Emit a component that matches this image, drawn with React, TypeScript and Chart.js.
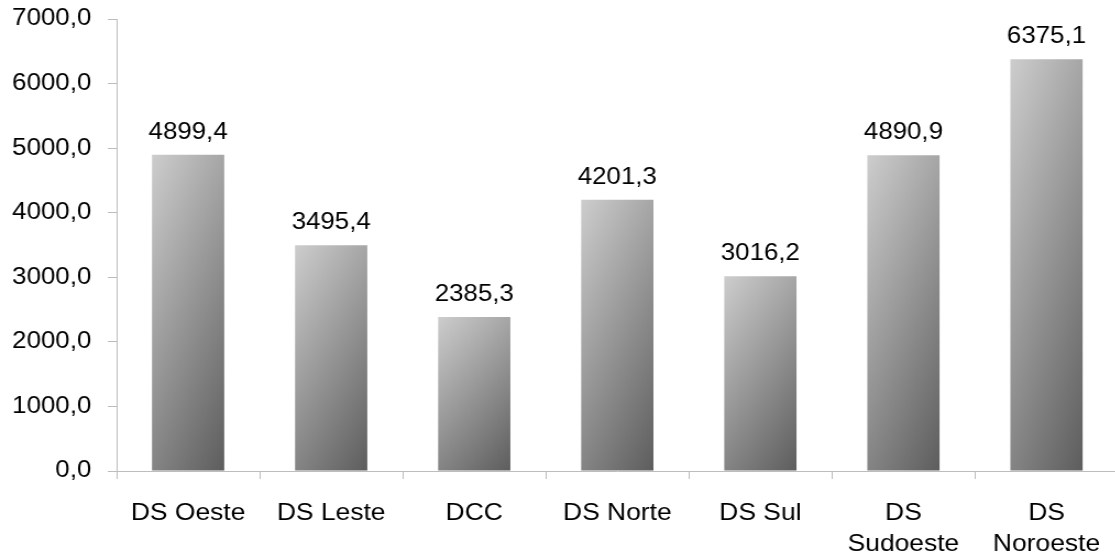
import React, { useEffect, useRef } from 'react';
import { Chart, registerables } from 'chart.js';

Chart.register(...registerables);

// ---- data ----
const categories: (string | string[])[] = [
  'DS Oeste',
  'DS Leste',
  'DCC',
  'DS Norte',
  'DS Sul',
  ['DS', 'Sudoeste'],
  ['DS', 'Noroeste'],
];
const values: number[] = [4899.4, 3495.4, 2385.3, 4201.3, 3016.2, 4890.9, 6375.1];
const yMin = 0;
const yMax = 7000;
const yStep = 1000;

// ---- style ----
const STRETCH = 1.1; // the reference text is slightly wider than tall
const CANVAS_W = 1019;
const CANVAS_H = 557;
const FONT = "'Liberation Sans', Arial, sans-serif";
const AXIS = '#bdbdbd';
const BAR_PCT = 0.505;
const LIGHT = '#cdcdcd';
const DARK = '#5d5d5d';

const fmt = (v: number) => Number(v).toFixed(1).replace('.', ',');

const valueLabels = {
  id: 'valueLabels',
  afterDatasetsDraw(chart: any) {
    const ctx = chart.ctx;
    const meta = chart.getDatasetMeta(0);
    ctx.save();
    ctx.font = `23.5px ${FONT}`;
    ctx.fillStyle = '#000';
    ctx.textAlign = 'center';
    ctx.textBaseline = 'alphabetic';
    meta.data.forEach((bar: any, i: number) => {
      ctx.fillText(fmt(values[i]), bar.x, bar.y - 16);
    });
    ctx.restore();
  },
};

function barFill(c: any) {
  const chart = c.chart;
  const xs = chart.scales?.x;
  const ys = chart.scales?.y;
  if (c.type !== 'data' || !xs || !ys) return '#999999';
  const i = c.dataIndex;
  const cx = xs.getPixelForValue(i);
  const w = (xs.width / categories.length) * BAR_PCT;
  const top = ys.getPixelForValue(values[i]);
  const base = ys.getPixelForValue(0);
  if (![cx, w, top, base].every((v) => Number.isFinite(v)) || w <= 0 || base - top <= 0) {
    return '#999999';
  }
  const h = base - top;
  const left = cx - w / 2;
  const gx = 0.35 / w;
  const gy = 0.65 / h;
  const n = gx * gx + gy * gy;
  const ex = left + gx / n;
  const ey = top + gy / n;
  if (!Number.isFinite(ex) || !Number.isFinite(ey)) return '#999999';
  const g = chart.ctx.createLinearGradient(left, top, ex, ey);
  g.addColorStop(0, LIGHT);
  g.addColorStop(1, DARK);
  return g;
}

export default function App() {
  const ref = useRef<HTMLCanvasElement | null>(null);

  useEffect(() => {
    if (!ref.current) return;
    const chart = new Chart(ref.current, {
      type: 'bar',
      data: {
        labels: categories,
        datasets: [
          {
            data: values,
            backgroundColor: barFill,
            borderWidth: 0,
            barPercentage: BAR_PCT,
            categoryPercentage: 1,
          },
        ],
      },
      options: {
        responsive: false,
        maintainAspectRatio: false,
        devicePixelRatio: 1,
        animation: false,
        layout: { padding: { top: 19, right: 0, left: 0, bottom: 0 } },
        plugins: {
          legend: { display: false },
          tooltip: { enabled: false },
        },
        scales: {
          x: {
            offset: true,
            grid: {
              display: true,
              offset: true,
              drawOnChartArea: false,
              drawTicks: true,
              tickLength: 8,
              color: AXIS,
            },
            border: { display: true, color: AXIS, width: 1 },
            ticks: {
              color: '#000',
              font: { family: FONT, size: 24, lineHeight: 1.3 },
              padding: 19,
              maxRotation: 0,
              autoSkip: false,
            },
            afterFit: (s: any) => {
              s.height = 86;
            },
          },
          y: {
            min: yMin,
            max: yMax,
            ticks: {
              stepSize: yStep,
              callback: (v: any) => fmt(v),
              color: '#000',
              font: { family: FONT, size: 23.5 },
              padding: 15,
            },
            grid: {
              drawOnChartArea: false,
              drawTicks: true,
              tickLength: 8,
              color: AXIS,
            },
            border: { display: true, color: AXIS, width: 1 },
            afterFit: (s: any) => {
              s.width = 106;
              s.paddingTop = 14;
              s.paddingBottom = 14;
            },
          },
        },
      },
      plugins: [valueLabels],
    });
    let alive = true;
    if ((document as any).fonts && (document as any).fonts.load) {
      Promise.all([
        (document as any).fonts.load(`24px 'Liberation Sans'`),
      ])
        .then(() => {
          if (alive) chart.update();
        })
        .catch(() => {});
    }
    return () => {
      alive = false;
      chart.destroy();
    };
  }, []);

  return (
    <canvas
      ref={ref}
      width={CANVAS_W}
      height={CANVAS_H}
      style={{
        position: 'fixed',
        left: 0,
        top: 0,
        width: `${CANVAS_W * STRETCH}px`,
        height: `${CANVAS_H}px`,
        background: '#fff',
      }}
    />
  );
}
